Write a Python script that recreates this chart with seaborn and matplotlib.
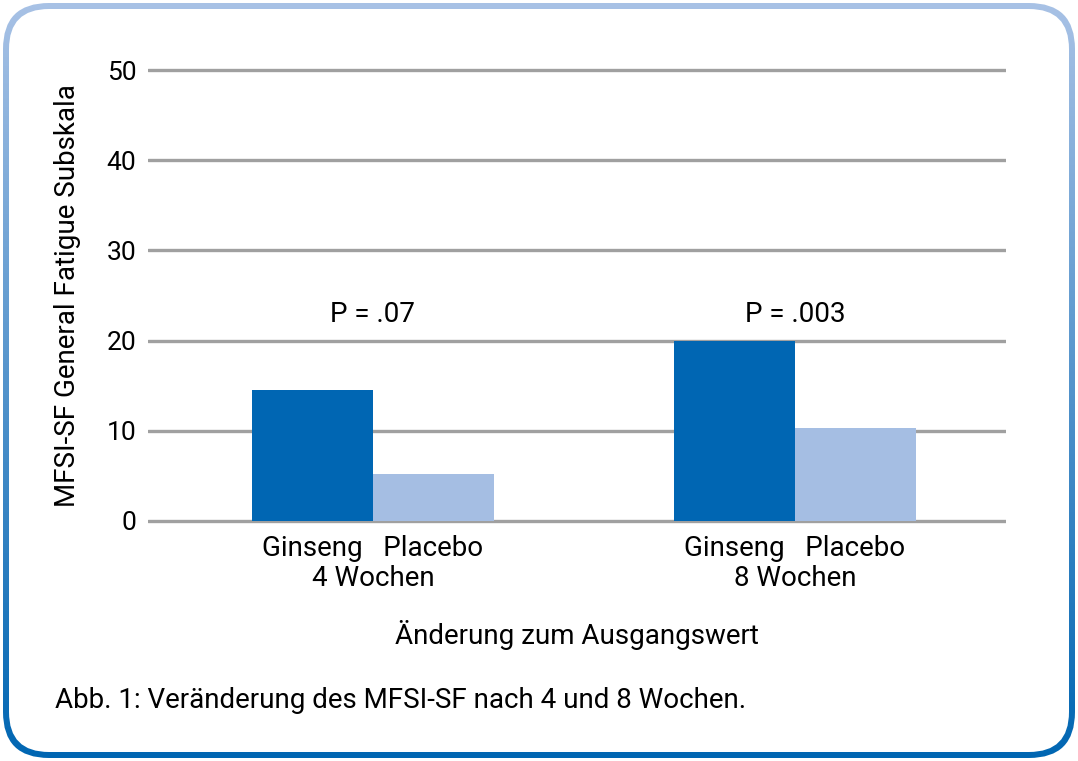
import numpy as np
import pandas as pd
import matplotlib
matplotlib.use("Agg")
import matplotlib.pyplot as plt
from matplotlib.patches import FancyBboxPatch
import seaborn as sns

# ---- data ----
weeks = ["4 Wochen", "8 Wochen"]
groups = ["Ginseng", "Placebo"]
ginseng_values = [14.5, 20.0]
placebo_values = [5.2, 10.3]
p_labels = ["P = .07", "P = .003"]
p_y = [22.9, 22.9]
y_ticks = [0, 10, 20, 30, 40, 50]

df = pd.DataFrame({
    "week": weeks * 2,
    "group": [groups[0]] * 2 + [groups[1]] * 2,
    "value": ginseng_values + placebo_values,
})

sns.set_theme(style="white")
plt.rcParams["font.family"] = ["Roboto", "DejaVu Sans"]

W, H = 1078, 761
fig = plt.figure(figsize=(W / 100, H / 100), dpi=100)

# ---- background frame with gradient border ----
bg = fig.add_axes([0, 0, 1, 1])
bg.set_xlim(0, W)
bg.set_ylim(H, 0)
bg.axis("off")
grad = np.linspace(0, 1, 256).reshape(-1, 1)
top_c = np.array([0.66, 0.76, 0.90])
bot_c = np.array([0.00, 0.40, 0.70])
img = top_c[None, None, :] * (1 - grad[:, :, None]) + bot_c[None, None, :] * grad[:, :, None]
im = bg.imshow(img, extent=[0, W, H, 0], aspect="auto", zorder=0)
outer = FancyBboxPatch((3, 3), W - 6, H - 6, boxstyle="round,pad=0,rounding_size=46",
                       facecolor="none", edgecolor="none", transform=bg.transData)
bg.add_patch(outer)
im.set_clip_path(outer)
inner = FancyBboxPatch((9, 9), W - 18, H - 18, boxstyle="round,pad=0,rounding_size=40",
                       facecolor="white", edgecolor="none", zorder=1, transform=bg.transData)
bg.add_patch(inner)

# ---- main chart ----
ax = fig.add_axes([148 / W, 1 - 525.5 / H, (1006 - 148) / W, (525.5 - 65.5) / H])
ax.patch.set_alpha(0)
dark = "#0066b3"
light = "#a5bee3"
sns.barplot(data=df, x="week", y="value", hue="group", palette=[dark, light],
            width=0.573, gap=0, saturation=1, legend=False, ax=ax, zorder=3,
            linewidth=0)

ax.set_xlim(-0.533, 1.5)
ax.set_ylim(-0.5, 50.5)
ax.set_yticks(y_ticks)
ax.set_yticklabels([str(t) for t in y_ticks], fontsize=19, color="black")
ax.yaxis.grid(True, color="#a0a0a0", linewidth=2.4, zorder=0)
ax.set_axisbelow(True)
ax.tick_params(axis="y", length=0, pad=8.5)
ax.tick_params(axis="x", length=0, pad=7)
ax.set_xticks([0, 1])
ax.set_xticklabels([f"{groups[0]}   {groups[1]}\n{w}" for w in weeks],
                   fontsize=20, color="black", linespacing=1.15)
for s in ax.spines.values():
    s.set_visible(False)

ax.set_ylabel("MFSI-SF General Fatigue Subskala", fontsize=20, color="black", labelpad=18)
ax.set_xlabel("Änderung zum Ausgangswert", fontsize=20, color="black", labelpad=20)

for i, (lab, yy) in enumerate(zip(p_labels, p_y)):
    ax.text(i, yy, lab, ha="center", va="center", fontsize=20, color="black")

fig.text(55 / W, 1 - 700 / H, "Abb. 1: Veränderung des MFSI-SF nach 4 und 8 Wochen.",
         ha="left", va="center", fontsize=20, color="black")

fig.savefig("out.png", dpi=100)
